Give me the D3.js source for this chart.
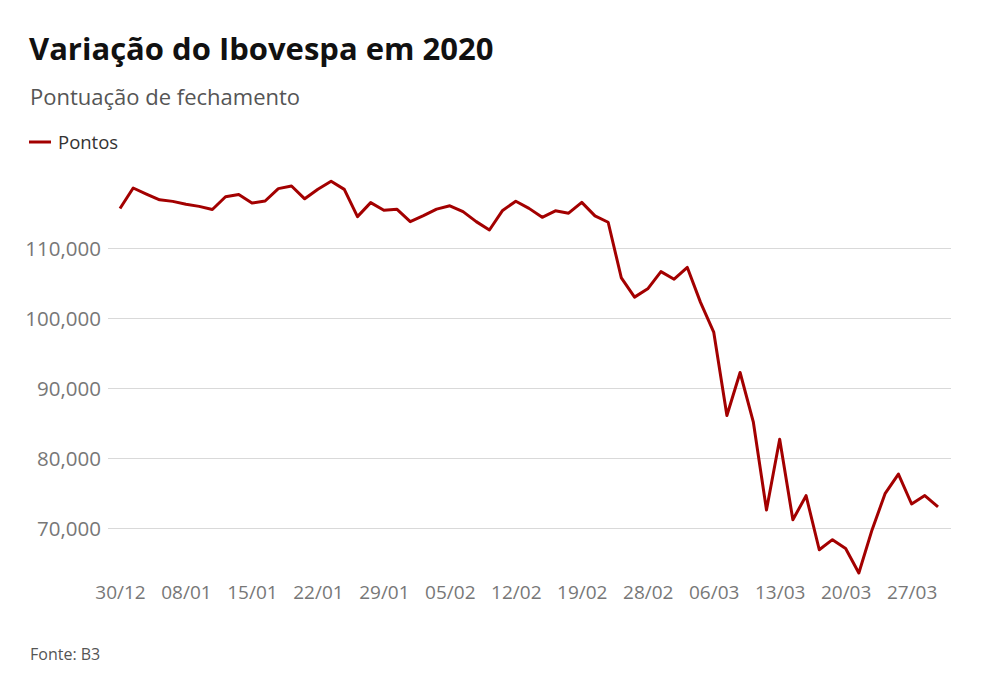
<!DOCTYPE html>
<html>
<head>
<meta charset="utf-8">
<script src="https://cdn.jsdelivr.net/npm/d3@7"></script>
<style>
  body { margin: 0; background: #fff; font-family: 'Open Sans', sans-serif; }
</style>
</head>
<body>
<svg></svg>
<script>
// trading days, 30/12/2019 to 31/03/2020
let dates = ['30/12','02/01','03/01','06/01','07/01','08/01','09/01','10/01','13/01','14/01','15/01','16/01','17/01','20/01','21/01','22/01','23/01','24/01','27/01','28/01','29/01','30/01','31/01',
  '03/02','04/02','05/02','06/02','07/02','10/02','11/02','12/02','13/02','14/02','17/02','18/02','19/02','20/02','21/02','26/02','27/02','28/02',
  '02/03','03/03','04/03','05/03','06/03','09/03','10/03','11/03','12/03','13/03','16/03','17/03','18/03','19/03','20/03','23/03','24/03','25/03','26/03','27/03','30/03','31/03']
let pontos = [115645,118573,117707,116878,116662,116247,115947,115503,117325,117632,116414,116715,118478,118862,117026,118391,119528,118376,114482,116479,115385,115528,113761,
  114629,115557,116028,115190,113770,112570,115371,116674,115662,114381,115309,114977,116518,114586,113681,105718,102984,104172,
  106625,105537,107224,102233,97997,86067,92214,85171,72583,82677,71168,74617,66895,68332,67069,63570,69729,74956,77710,73429,74640,73020]
let xTicks = ['30/12','08/01','15/01','22/01','29/01','05/02','12/02','19/02','28/02','06/03','13/03','20/03','27/03']
let yTicks = [70000, 80000, 90000, 100000, 110000]

let width = 984
let height = 699
let red = '#a30000'

let svg = d3.select('svg').attr('width', width).attr('height', height)

svg.append('text').attr('x', 29).attr('y', 60)
  .style('font-size', '31px').style('font-weight', 700).style('fill', '#111')
  .text('Variação do Ibovespa em 2020')

svg.append('text').attr('x', 30).attr('y', 105)
  .style('font-size', '22px').style('fill', '#555')
  .text('Pontuação de fechamento')

svg.append('line').attr('x1', 29).attr('x2', 51).attr('y1', 142).attr('y2', 142)
  .attr('stroke', red).attr('stroke-width', 3)
svg.append('text').attr('x', 58).attr('y', 149)
  .style('font-size', '18.5px').style('fill', '#333')
  .text('Pontos')

let xScale = d3.scalePoint().domain(dates).range([120, 938])
let yScale = d3.scaleLinear().domain([60000, 120000]).range([598, 178])

let yAxis = d3.axisLeft(yScale).tickValues(yTicks).tickSize(-(951 - 108))
  .tickFormat(d3.format(','))
let gy = svg.append('g').attr('transform', 'translate(108,0)').call(yAxis)
gy.select('.domain').remove()
gy.selectAll('line').attr('stroke', '#d9d9d9').attr('stroke-width', 1)
gy.selectAll('text').attr('x', -7).attr('dy', '0.35em')
  .style('font-size', '20.5px').style('fill', '#777').style('font-family', 'Open Sans, sans-serif')

let xAxis = d3.axisBottom(xScale).tickValues(xTicks).tickSize(0)
let gx = svg.append('g').attr('transform', 'translate(0,580)').call(xAxis)
gx.select('.domain').remove()
gx.selectAll('text').attr('y', 5).attr('dy', '0.71em')
  .style('font-size', '19px').style('fill', '#777').style('font-family', 'Open Sans, sans-serif')

let line = d3.line()
  .x((d, i) => xScale(dates[i]))
  .y((d) => yScale(d))

svg.append('path').datum(pontos)
  .attr('d', line)
  .attr('fill', 'none')
  .attr('stroke', red)
  .attr('stroke-width', 3)
  .attr('stroke-linejoin', 'round')

svg.append('text').attr('x', 30).attr('y', 660)
  .style('font-size', '16px').style('fill', '#555')
  .text('Fonte: B3')
</script>
</body>
</html>
